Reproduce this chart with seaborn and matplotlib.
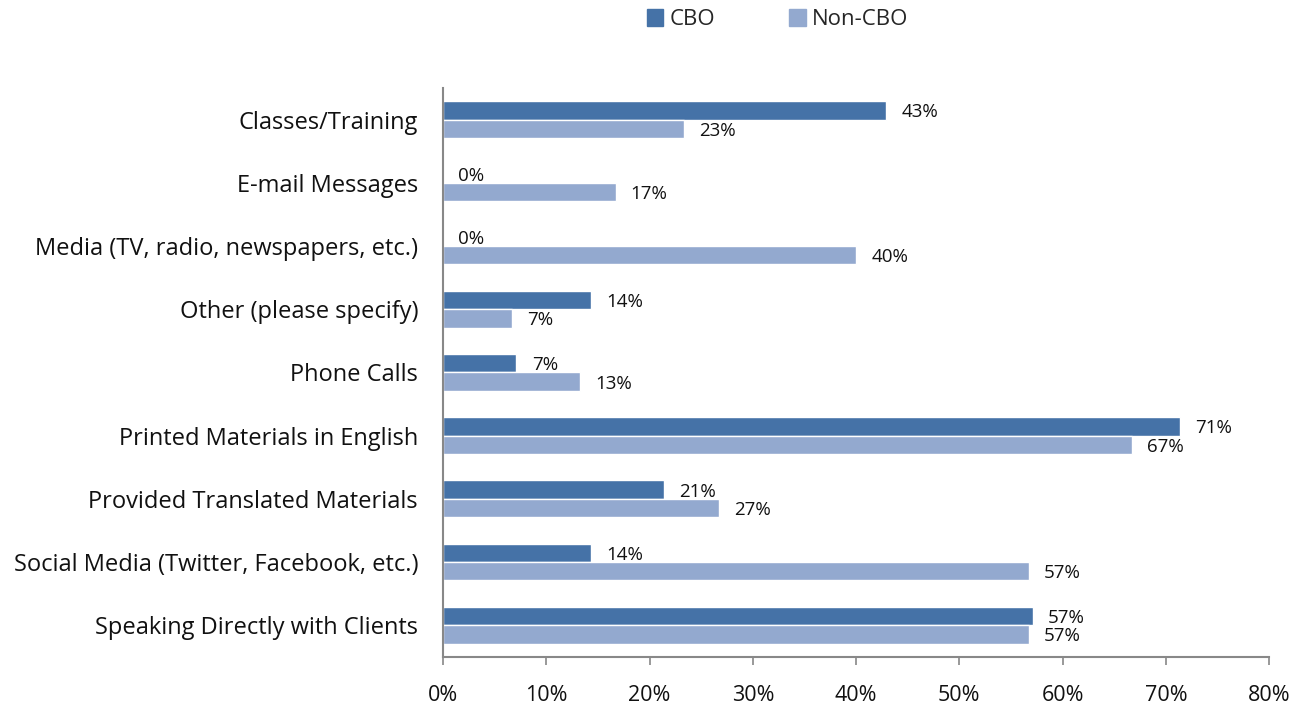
import matplotlib
matplotlib.use("Agg")
import matplotlib.pyplot as plt
import matplotlib.ticker as mticker
import pandas as pd
import seaborn as sns

categories = [
    "Classes/Training",
    "E-mail Messages",
    "Media (TV, radio, newspapers, etc.)",
    "Other (please specify)",
    "Phone Calls",
    "Printed Materials in English",
    "Provided Translated Materials",
    "Social Media (Twitter, Facebook, etc.)",
    "Speaking Directly with Clients",
]
cbo = [42.9, 0.0, 0.0, 14.3, 7.1, 71.4, 21.4, 14.3, 57.1]
non_cbo = [23.3, 16.7, 40.0, 6.7, 13.3, 66.7, 26.7, 56.7, 56.7]
groups = ["CBO", "Non-CBO"]
colors = ["#4572A7", "#93A9CF"]

df = pd.DataFrame({
    "category": categories * 2,
    "value": cbo + non_cbo,
    "group": ["CBO"] * len(categories) + ["Non-CBO"] * len(categories),
})

sns.set_theme(style="white")
plt.rcParams["font.family"] = ["Open Sans", "DejaVu Sans"]

fig = plt.figure(figsize=(13.07, 7.04), dpi=100)
ax = fig.add_axes([0.339, 0.067, 0.632, 0.808])

sns.barplot(data=df, y="category", x="value", hue="group", order=categories,
            hue_order=groups, palette=colors, orient="h", width=0.58,
            saturation=1, ax=ax, legend=False)

for cont in ax.containers:
    labels = [f"{round(b.get_width()):.0f}%" for b in cont]
    texts = ax.bar_label(cont, labels=labels, padding=11, fontsize=13.5,
                         color="#111111")
    for t in texts:
        t.set_va("center_baseline")

ax.set_xlim(0, 80)
ax.set_ylim(len(categories) - 0.5, -0.5)
ax.xaxis.set_major_locator(mticker.MultipleLocator(10))
ax.xaxis.set_major_formatter(mticker.FuncFormatter(lambda v, p: f"{v:.0f}%"))
ax.set_xlabel("")
ax.set_ylabel("")
ax.tick_params(axis="x", labelsize=15.5, length=6, width=1.2, color="#888888",
               direction="out", bottom=True, pad=14)
ax.tick_params(axis="y", labelsize=17, length=0, pad=18)
for lbl in ax.get_xticklabels() + ax.get_yticklabels():
    lbl.set_color("#111111")

for side in ["top", "right"]:
    ax.spines[side].set_visible(False)
for side in ["left", "bottom"]:
    ax.spines[side].set_color("#888888")
    ax.spines[side].set_linewidth(1.5)

handles = [plt.Rectangle((0, 0), 1, 1, color=c) for c in colors]
fig.legend(handles, groups, loc="center", bbox_to_anchor=(0.595, 0.972),
           ncol=2, frameon=False, fontsize=16, handlelength=0.75,
           handleheight=0.75, handletextpad=0.3, columnspacing=3.3)

plt.savefig("out.png", dpi=100)
plt.close()
